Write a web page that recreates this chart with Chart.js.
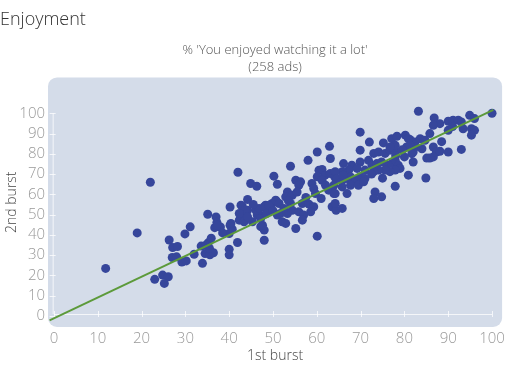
<!DOCTYPE html>
<html>
<head>
<meta charset="utf-8">
<script src="https://cdn.jsdelivr.net/npm/chart.js@4"></script>
<style>
  body { margin: 0; background: #fff; }
  canvas { display: block; }
</style>
</head>
<body>
<canvas id="chartEnjoy" width="508" height="377"></canvas>
<script>
const chartTitle = "Enjoyment";
const chartSubtitle = ["% 'You enjoyed watching it a lot'", "(258 ads)"];
const xTitle = "1st burst";
const yTitle = "2nd burst";
const tickValues = [0, 10, 20, 30, 40, 50, 60, 70, 80, 90, 100];

// % enjoyed a lot, 1st burst (x) and 2nd burst (y), one entry per ad
const burst1 = [
  11.8, 19.0, 22.0, 23.0, 24.8, 26.1, 25.2, 26.3, 27.1, 28.2, 27.0, 28.0, 29.2, 30.2, 29.9, 31.1,
  33.6, 33.9, 34.5, 35.2, 35.6, 36.4, 35.9, 34.7, 35.5, 35.1, 37.0, 37.2, 36.7, 38.0, 37.3,
  40.0, 40.2, 40.0, 40.0, 41.9, 40.7, 40.2, 42.0, 43.0, 44.2, 44.2, 43.0, 42.3, 46.4, 40.4,
  43.4, 45.3, 46.8, 48.3, 49.8, 50.8, 49.1, 47.2, 48.0, 48.0, 42.7, 43.6, 42.3, 44.2, 50.2,
  51.0, 44.9, 46.3, 51.0, 47.2, 47.6, 46.1, 46.8, 48.0, 49.1, 50.6, 51.4, 51.7, 52.1, 52.9, 54.0,
  55.2, 56.3, 55.9, 60.5, 61.2, 61.9, 60.1, 61.2, 63.1, 64.1, 58.9, 59.3, 59.7, 53.3, 52.9, 54.4,
  55.5, 56.7, 58.2, 59.3, 58.6, 54.0, 54.4, 53.3, 55.9, 57.0, 56.7, 55.2, 60.1, 62.7, 63.9, 63.5,
  64.4, 62.9, 60.1, 58.0, 63.1,
  69.9, 72.0, 75.2, 77.1, 78.3, 80.2, 81.3, 82.4, 69.9, 73.0, 74.1, 75.6, 76.7, 77.9, 66.1, 68.0,
  69.9, 69.2, 67.3, 65.8, 64.2, 71.8, 72.6, 73.7, 74.8, 76.0, 77.1, 77.9, 78.6, 79.0, 77.9, 76.7,
  75.6, 74.1, 73.0, 82.0, 82.0, 80.9, 77.9, 73.3, 73.0, 74.8, 64.6, 65.8, 66.9, 67.7, 68.8, 69.9,
  71.0, 63.9, 65.8, 67.7, 69.5, 70.7, 64.2, 66.9, 64.2, 65.8, 77.9, 80.5, 76.7,
  83.2, 100.0, 86.8, 88.1, 86.6, 90.0, 91.1, 92.3, 93.0, 94.9, 96.0, 93.4, 95.3, 96.0, 95.3, 90.0,
  85.8, 80.9, 83.6, 84.7, 82.4, 81.3, 86.6, 87.3, 88.1, 86.6, 90.0, 93.0, 81.7, 85.1, 85.8, 84.9,
  45.5, 48.5, 50.0, 52.5, 53.5, 57.5, 61.0, 62.0, 66.0, 71.0, 72.5, 75.0, 78.0, 79.5, 80.0, 84.0,
  88.5, 91.0, 38.5, 32.0
];
const burst2 = [
  23.5, 41.0, 66.0, 18.1, 20.2, 19.4, 16.1, 37.5, 33.8, 34.3, 28.9, 29.2, 26.6, 27.2, 40.5, 44.0,
  34.5, 26.0, 30.8, 36.1, 30.2, 31.2, 38.4, 35.0, 33.4, 50.2, 48.9, 46.2, 43.6, 43.9, 44.8,
  40.7, 44.8, 32.9, 30.2, 36.3, 42.8, 53.8, 70.9, 54.2, 57.5, 52.2, 49.9, 47.3, 49.8, 45.7,
  46.5, 46.5, 50.6, 54.7, 55.5, 56.7, 52.2, 44.1, 42.4, 37.4, 54.7, 52.2, 50.6, 48.9, 69.0,
  65.0, 65.4, 64.0, 49.8, 48.1, 44.8, 52.2, 53.1, 53.9, 54.7, 57.1, 55.5, 50.6, 46.5, 45.7, 73.9,
  67.0, 66.2, 64.5, 71.9, 72.3, 69.5, 68.7, 67.0, 70.3, 68.6, 65.4, 62.9, 60.4, 61.2, 58.8, 59.6,
  61.2, 55.5, 55.2, 53.9, 51.4, 55.5, 52.2, 50.6, 51.4, 49.8, 47.3, 43.2, 39.4, 62.1, 60.4, 53.9,
  52.2, 83.7, 80.9, 76.8, 77.7,
  90.7, 85.8, 85.4, 87.5, 88.7, 89.2, 87.0, 85.8, 81.8, 80.2, 80.9, 80.2, 81.8, 80.9, 75.2, 74.4,
  76.0, 72.8, 72.0, 71.2, 71.2, 76.8, 74.4, 75.2, 76.0, 74.4, 75.2, 76.8, 74.4, 72.8, 72.0, 71.2,
  72.0, 72.0, 71.2, 80.9, 76.0, 69.5, 64.0, 61.2, 58.0, 58.8, 67.8, 67.0, 67.8, 68.6, 67.0, 68.6,
  67.8, 64.5, 63.7, 64.5, 64.5, 66.2, 60.4, 60.4, 55.5, 53.1, 84.2, 83.4, 83.4,
  101.0, 100.0, 97.7, 94.9, 94.1, 96.1, 96.6, 96.6, 95.7, 99.0, 97.4, 92.4, 92.4, 91.6, 89.2, 91.6,
  90.0, 87.5, 87.5, 86.7, 83.4, 84.2, 83.4, 80.9, 81.3, 78.5, 80.9, 82.2, 80.1, 77.9, 77.9, 68.1,
  55.0, 50.5, 52.0, 53.0, 57.0, 58.5, 58.0, 64.5, 69.5, 72.0, 70.0, 68.0, 79.0, 82.0, 78.5, 82.5,
  86.0, 93.5, 41.0, 30.5
];
// fitted line, read at its two ends
const fitX = [-1.0, 100.3];
const fitY = [-2.1, 101.7];

const points = burst1.map((x, i) => ({ x: x, y: burst2[i] }));
const fitLine = fitX.map((x, i) => ({ x: x, y: fitY[i] }));

const plotBg = {
  id: "plotBg",
  beforeDraw(chart) {
    const { ctx, chartArea: a } = chart;
    ctx.save();
    ctx.fillStyle = "#d4dce9";
    ctx.beginPath();
    ctx.roundRect(a.left, a.top, a.right - a.left, a.bottom - a.top, 9);
    ctx.fill();
    ctx.restore();
  },
  beforeDatasetsDraw(chart) {
    // faint white axis lines with short ticks inside the panel
    const { ctx, scales: { x, y } } = chart;
    const x0 = x.getPixelForValue(0), x100 = x.getPixelForValue(100);
    const y0 = y.getPixelForValue(1), y100 = y.getPixelForValue(100);
    const xl = x.getPixelForValue(-0.3);
    ctx.save();
    ctx.strokeStyle = "rgba(255,255,255,0.75)";
    ctx.lineWidth = 1;
    ctx.beginPath();
    ctx.moveTo(x0, y0 + 0.5); ctx.lineTo(x100, y0 + 0.5);
    tickValues.forEach(v => {
      const px = Math.round(x.getPixelForValue(v)) + 0.5;
      ctx.moveTo(px, y0 - 3); ctx.lineTo(px, y0 + 3);
      const py = Math.round(y.getPixelForValue(v)) + 0.5;
      ctx.moveTo(xl - 3, py); ctx.lineTo(xl + 3, py);
    });
    ctx.moveTo(xl + 0.5, y0); ctx.lineTo(xl + 0.5, y100);
    ctx.stroke();
    ctx.restore();
  }
};

const lightFont = "'Open Sans', 'Lato', sans-serif";

new Chart(document.getElementById("chartEnjoy"), {
  type: "scatter",
  data: {
    datasets: [
      {
        data: fitLine,
        showLine: true,
        borderColor: "#5c9a3a",
        borderWidth: 2,
        pointRadius: 0,
        order: 0
      },
      {
        data: points,
        backgroundColor: "#36469b",
        borderWidth: 0,
        pointRadius: 4.5,
        order: 1
      }
    ]
  },
  options: {
    responsive: false,
    animation: false,
    devicePixelRatio: 1,
    layout: { padding: { left: 0, right: 4, top: 0, bottom: 0 } },
    plugins: {
      legend: { display: false },
      tooltip: { enabled: false },
      title: {
        display: true,
        text: chartTitle,
        align: "start",
        color: "#333",
        font: { family: lightFont, size: 18, weight: 300, lineHeight: 1.2 },
        padding: { top: 9, bottom: 11 }
      },
      subtitle: {
        display: true,
        text: chartSubtitle,
        fullSize: false,
        color: "#555",
        font: { family: lightFont, size: 13, weight: 300, lineHeight: 1.3 },
        padding: { top: 0, bottom: 2 }
      }
    },
    scales: {
      x: {
        type: "linear",
        min: -1.36,
        max: 102.3,
        afterBuildTicks: s => { s.ticks = tickValues.map(v => ({ value: v })); },
        afterFit: s => { s.height = 50; },
        grid: { display: false, drawTicks: false },
        border: { display: false },
        ticks: {
          color: "#999",
          padding: 3,
          maxRotation: 0,
          font: { family: lightFont, size: 15, weight: 300 }
        },
        title: {
          display: true,
          text: xTitle,
          color: "#444",
          font: { family: lightFont, size: 14, weight: 300, lineHeight: 1.2 },
          padding: { top: 0, bottom: 13 }
        }
      },
      y: {
        type: "linear",
        min: -5.4,
        max: 117.7,
        afterBuildTicks: s => { s.ticks = tickValues.map(v => ({ value: v })); },
        afterFit: s => { s.width = 48; },
        grid: { display: false, drawTicks: false },
        border: { display: false },
        ticks: {
          color: "#999",
          padding: 3,
          font: { family: lightFont, size: 15, weight: 300 }
        },
        title: {
          display: true,
          text: yTitle,
          color: "#444",
          font: { family: lightFont, size: 14, weight: 300, lineHeight: 1.2 },
          padding: { top: 4, bottom: 0 }
        }
      }
    }
  },
  plugins: [plotBg]
});
</script>
</body>
</html>
